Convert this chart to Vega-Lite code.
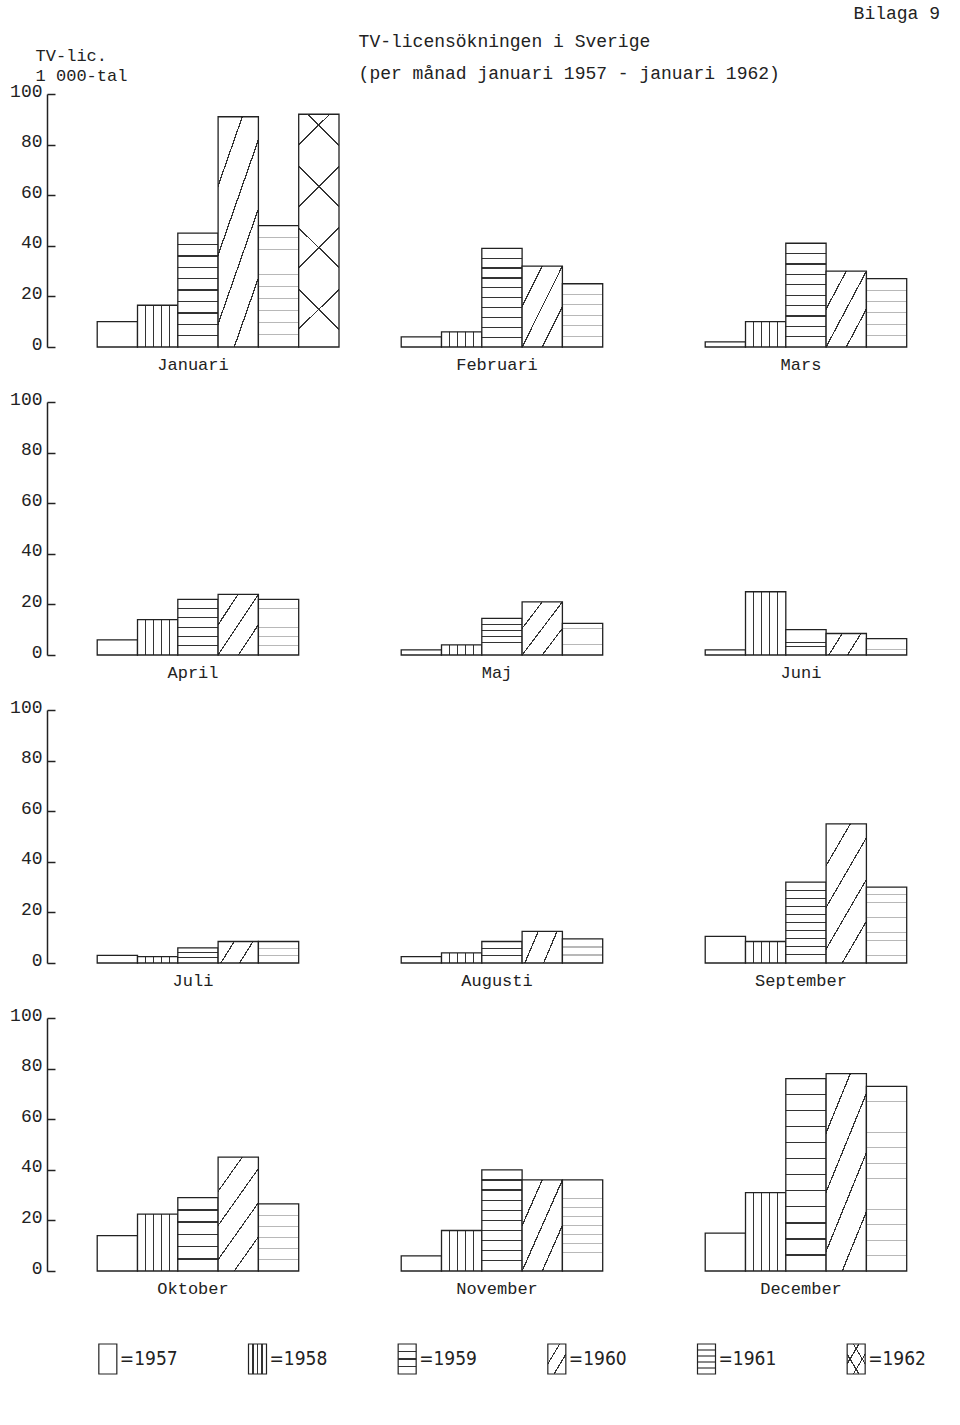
{
  "$schema": "https://vega.github.io/schema/vega-lite/v6.json",
  "background": "white",
  "padding": {"left": 9, "top": 5, "right": 10, "bottom": 5},
  "title": {"text": "Bilaga 9", "anchor": "end", "offset": 10, "dx": -7, "fontSize": 18, "font": "Liberation Mono", "fontWeight": "normal", "color": "#222"},
  "datasets": {
    "bars": [
      {"month": "Januari", "year": "1957", "value": 10},
      {"month": "Januari", "year": "1958", "value": 16.5},
      {"month": "Januari", "year": "1959", "value": 45},
      {"month": "Januari", "year": "1960", "value": 91},
      {"month": "Januari", "year": "1961", "value": 48},
      {"month": "Januari", "year": "1962", "value": 92},
      {"month": "Februari", "year": "1957", "value": 4},
      {"month": "Februari", "year": "1958", "value": 6},
      {"month": "Februari", "year": "1959", "value": 39},
      {"month": "Februari", "year": "1960", "value": 32},
      {"month": "Februari", "year": "1961", "value": 25},
      {"month": "Mars", "year": "1957", "value": 2},
      {"month": "Mars", "year": "1958", "value": 10},
      {"month": "Mars", "year": "1959", "value": 41},
      {"month": "Mars", "year": "1960", "value": 30},
      {"month": "Mars", "year": "1961", "value": 27},
      {"month": "April", "year": "1957", "value": 6},
      {"month": "April", "year": "1958", "value": 14},
      {"month": "April", "year": "1959", "value": 22},
      {"month": "April", "year": "1960", "value": 24},
      {"month": "April", "year": "1961", "value": 22},
      {"month": "Maj", "year": "1957", "value": 2},
      {"month": "Maj", "year": "1958", "value": 4},
      {"month": "Maj", "year": "1959", "value": 14.5},
      {"month": "Maj", "year": "1960", "value": 21},
      {"month": "Maj", "year": "1961", "value": 12.5},
      {"month": "Juni", "year": "1957", "value": 2},
      {"month": "Juni", "year": "1958", "value": 25},
      {"month": "Juni", "year": "1959", "value": 10},
      {"month": "Juni", "year": "1960", "value": 8.5},
      {"month": "Juni", "year": "1961", "value": 6.5},
      {"month": "Juli", "year": "1957", "value": 3},
      {"month": "Juli", "year": "1958", "value": 2.5},
      {"month": "Juli", "year": "1959", "value": 6},
      {"month": "Juli", "year": "1960", "value": 8.5},
      {"month": "Juli", "year": "1961", "value": 8.5},
      {"month": "Augusti", "year": "1957", "value": 2.5},
      {"month": "Augusti", "year": "1958", "value": 4},
      {"month": "Augusti", "year": "1959", "value": 8.5},
      {"month": "Augusti", "year": "1960", "value": 12.5},
      {"month": "Augusti", "year": "1961", "value": 9.5},
      {"month": "September", "year": "1957", "value": 10.5},
      {"month": "September", "year": "1958", "value": 8.5},
      {"month": "September", "year": "1959", "value": 32},
      {"month": "September", "year": "1960", "value": 55},
      {"month": "September", "year": "1961", "value": 30},
      {"month": "Oktober", "year": "1957", "value": 14},
      {"month": "Oktober", "year": "1958", "value": 22.5},
      {"month": "Oktober", "year": "1959", "value": 29},
      {"month": "Oktober", "year": "1960", "value": 45},
      {"month": "Oktober", "year": "1961", "value": 26.5},
      {"month": "November", "year": "1957", "value": 6},
      {"month": "November", "year": "1958", "value": 16},
      {"month": "November", "year": "1959", "value": 40},
      {"month": "November", "year": "1960", "value": 36},
      {"month": "November", "year": "1961", "value": 36},
      {"month": "December", "year": "1957", "value": 15},
      {"month": "December", "year": "1958", "value": 31},
      {"month": "December", "year": "1959", "value": 76},
      {"month": "December", "year": "1960", "value": 78},
      {"month": "December", "year": "1961", "value": 73}
    ],
    "legend": [
      {"year": "1957", "label": "=1957"},
      {"year": "1958", "label": "=1958"},
      {"year": "1959", "label": "=1959"},
      {"year": "1960", "label": "=1960"},
      {"year": "1961", "label": "=1961"},
      {"year": "1962", "label": "=1962"}
    ]
  },
  "vconcat": [
    {
      "title": {"text": "TV-licensökningen i Sverige", "subtitle": "(per månad januari 1957 - januari 1962)", "anchor": "start", "dx": 349, "offset": -36, "fontSize": 18, "font": "Liberation Mono", "fontWeight": "normal", "color": "#222", "subtitleFont": "Liberation Mono", "subtitleFontSize": 18, "subtitleColor": "#222", "subtitlePadding": 14},
      "spacing": 46,
      "vconcat": [
        {
          "title": {"text": ["TV-lic.", "1 000-tal"], "anchor": "start", "dx": 26, "offset": -3, "fontSize": 17, "lineHeight": 20, "font": "Liberation Mono", "fontWeight": "normal", "color": "#222"},
          "data": {"name": "bars"},
          "columns": 3,
          "spacing": {"row": 29, "column": 11},
          "facet": {
            "field": "month", "type": "nominal", "title": null,
            "sort": ["Januari", "Februari", "Mars", "April", "Maj", "Juni", "Juli", "Augusti", "September", "Oktober", "November", "December"],
            "header": {"labelOrient": "bottom", "labelPadding": 9, "labelFont": "Liberation Mono", "labelFontSize": 17, "labelColor": "#222"}
          },
          "spec": {
            "width": 292,
            "height": 253,
            "layer": [
              {
                "mark": {"type": "bar", "stroke": "#222", "strokeWidth": 1.3},
                "encoding": {
                  "x": {"field": "year", "type": "nominal", "axis": null, "scale": {"domain": ["1957", "1958", "1959", "1960", "1961", "1962"], "paddingInner": 0, "paddingOuter": 0.623, "align": 1}},
                  "y": {"field": "value", "type": "quantitative", "scale": {"domain": [0, 100]},
                        "axis": {"title": null, "values": [0, 20, 40, 60, 80, 100], "grid": false, "labelFont": "Liberation Mono", "labelFontSize": 18, "labelColor": "#222", "tickSize": -8, "labelPadding": 13, "labelOffset": -3, "domainColor": "#222", "domainWidth": 1.5, "tickColor": "#222", "tickWidth": 1.5}},
                  "fill": {
                    "condition": [
                      {"test": "datum.year === '1958'", "value": {"gradient": "linear", "x1": 0, "y1": 0, "x2": 1, "y2": 0, "stops": [
                        {"offset": 0, "color": "#fff"},
                        {"offset": 0.188, "color": "#fff"}, {"offset": 0.188, "color": "#333"}, {"offset": 0.212, "color": "#333"}, {"offset": 0.212, "color": "#fff"},
                        {"offset": 0.388, "color": "#fff"}, {"offset": 0.388, "color": "#333"}, {"offset": 0.412, "color": "#333"}, {"offset": 0.412, "color": "#fff"},
                        {"offset": 0.588, "color": "#fff"}, {"offset": 0.588, "color": "#333"}, {"offset": 0.612, "color": "#333"}, {"offset": 0.612, "color": "#fff"},
                        {"offset": 0.788, "color": "#fff"}, {"offset": 0.788, "color": "#333"}, {"offset": 0.812, "color": "#333"}, {"offset": 0.812, "color": "#fff"},
                        {"offset": 1, "color": "#fff"}]}},
                      {"test": "datum.year === '1959' && datum.value >= 60", "value": {"gradient": "linear", "x1": 0, "y1": 0, "x2": 0, "y2": 1, "stops": [
                        {"offset": 0, "color": "#fff"},
                        {"offset": 0.0803, "color": "#fff"}, {"offset": 0.0803, "color": "#333"}, {"offset": 0.0863, "color": "#333"}, {"offset": 0.0863, "color": "#fff"},
                        {"offset": 0.1637, "color": "#fff"}, {"offset": 0.1637, "color": "#333"}, {"offset": 0.1697, "color": "#333"}, {"offset": 0.1697, "color": "#fff"},
                        {"offset": 0.247, "color": "#fff"}, {"offset": 0.247, "color": "#333"}, {"offset": 0.253, "color": "#333"}, {"offset": 0.253, "color": "#fff"},
                        {"offset": 0.3303, "color": "#fff"}, {"offset": 0.3303, "color": "#333"}, {"offset": 0.3363, "color": "#333"}, {"offset": 0.3363, "color": "#fff"},
                        {"offset": 0.4137, "color": "#fff"}, {"offset": 0.4137, "color": "#333"}, {"offset": 0.4197, "color": "#333"}, {"offset": 0.4197, "color": "#fff"},
                        {"offset": 0.497, "color": "#fff"}, {"offset": 0.497, "color": "#333"}, {"offset": 0.503, "color": "#333"}, {"offset": 0.503, "color": "#fff"},
                        {"offset": 0.5803, "color": "#fff"}, {"offset": 0.5803, "color": "#333"}, {"offset": 0.5863, "color": "#333"}, {"offset": 0.5863, "color": "#fff"},
                        {"offset": 0.6637, "color": "#fff"}, {"offset": 0.6637, "color": "#333"}, {"offset": 0.6697, "color": "#333"}, {"offset": 0.6697, "color": "#fff"},
                        {"offset": 0.747, "color": "#fff"}, {"offset": 0.747, "color": "#333"}, {"offset": 0.753, "color": "#333"}, {"offset": 0.753, "color": "#fff"},
                        {"offset": 0.8303, "color": "#fff"}, {"offset": 0.8303, "color": "#333"}, {"offset": 0.8363, "color": "#333"}, {"offset": 0.8363, "color": "#fff"},
                        {"offset": 0.9137, "color": "#fff"}, {"offset": 0.9137, "color": "#333"}, {"offset": 0.9197, "color": "#333"}, {"offset": 0.9197, "color": "#fff"},
                        {"offset": 1, "color": "#fff"}]}},
                      {"test": "datum.year === '1959' && datum.value >= 30", "value": {"gradient": "linear", "x1": 0, "y1": 0, "x2": 0, "y2": 1, "stops": [
                        {"offset": 0, "color": "#fff"},
                        {"offset": 0.094, "color": "#fff"}, {"offset": 0.094, "color": "#333"}, {"offset": 0.106, "color": "#333"}, {"offset": 0.106, "color": "#fff"},
                        {"offset": 0.194, "color": "#fff"}, {"offset": 0.194, "color": "#333"}, {"offset": 0.206, "color": "#333"}, {"offset": 0.206, "color": "#fff"},
                        {"offset": 0.294, "color": "#fff"}, {"offset": 0.294, "color": "#333"}, {"offset": 0.306, "color": "#333"}, {"offset": 0.306, "color": "#fff"},
                        {"offset": 0.394, "color": "#fff"}, {"offset": 0.394, "color": "#333"}, {"offset": 0.406, "color": "#333"}, {"offset": 0.406, "color": "#fff"},
                        {"offset": 0.494, "color": "#fff"}, {"offset": 0.494, "color": "#333"}, {"offset": 0.506, "color": "#333"}, {"offset": 0.506, "color": "#fff"},
                        {"offset": 0.594, "color": "#fff"}, {"offset": 0.594, "color": "#333"}, {"offset": 0.606, "color": "#333"}, {"offset": 0.606, "color": "#fff"},
                        {"offset": 0.694, "color": "#fff"}, {"offset": 0.694, "color": "#333"}, {"offset": 0.706, "color": "#333"}, {"offset": 0.706, "color": "#fff"},
                        {"offset": 0.794, "color": "#fff"}, {"offset": 0.794, "color": "#333"}, {"offset": 0.806, "color": "#333"}, {"offset": 0.806, "color": "#fff"},
                        {"offset": 0.894, "color": "#fff"}, {"offset": 0.894, "color": "#333"}, {"offset": 0.906, "color": "#333"}, {"offset": 0.906, "color": "#fff"},
                        {"offset": 1, "color": "#fff"}]}},
                      {"test": "datum.year === '1959' && datum.value >= 10", "value": {"gradient": "linear", "x1": 0, "y1": 0, "x2": 0, "y2": 1, "stops": [
                        {"offset": 0, "color": "#fff"},
                        {"offset": 0.1567, "color": "#fff"}, {"offset": 0.1567, "color": "#333"}, {"offset": 0.1767, "color": "#333"}, {"offset": 0.1767, "color": "#fff"},
                        {"offset": 0.3233, "color": "#fff"}, {"offset": 0.3233, "color": "#333"}, {"offset": 0.3433, "color": "#333"}, {"offset": 0.3433, "color": "#fff"},
                        {"offset": 0.49, "color": "#fff"}, {"offset": 0.49, "color": "#333"}, {"offset": 0.51, "color": "#333"}, {"offset": 0.51, "color": "#fff"},
                        {"offset": 0.6567, "color": "#fff"}, {"offset": 0.6567, "color": "#333"}, {"offset": 0.6767, "color": "#333"}, {"offset": 0.6767, "color": "#fff"},
                        {"offset": 0.8233, "color": "#fff"}, {"offset": 0.8233, "color": "#333"}, {"offset": 0.8433, "color": "#333"}, {"offset": 0.8433, "color": "#fff"},
                        {"offset": 1, "color": "#fff"}]}},
                      {"test": "datum.year === '1959'", "value": {"gradient": "linear", "x1": 0, "y1": 0, "x2": 0, "y2": 1, "stops": [
                        {"offset": 0, "color": "#fff"},
                        {"offset": 0.3033, "color": "#fff"}, {"offset": 0.3033, "color": "#333"}, {"offset": 0.3633, "color": "#333"}, {"offset": 0.3633, "color": "#fff"},
                        {"offset": 0.6367, "color": "#fff"}, {"offset": 0.6367, "color": "#333"}, {"offset": 0.6967, "color": "#333"}, {"offset": 0.6967, "color": "#fff"},
                        {"offset": 1, "color": "#fff"}]}},
                      {"test": "datum.year === '1960' && datum.value >= 40", "value": {"gradient": "linear", "x1": 0, "y1": 0, "x2": 0.6, "y2": 1.2, "stops": [
                        {"offset": 0, "color": "#fff"},
                        {"offset": 0.1945, "color": "#fff"}, {"offset": 0.1945, "color": "#333"}, {"offset": 0.2055, "color": "#333"}, {"offset": 0.2055, "color": "#fff"},
                        {"offset": 0.3945, "color": "#fff"}, {"offset": 0.3945, "color": "#333"}, {"offset": 0.4055, "color": "#333"}, {"offset": 0.4055, "color": "#fff"},
                        {"offset": 0.5945, "color": "#fff"}, {"offset": 0.5945, "color": "#333"}, {"offset": 0.6055, "color": "#333"}, {"offset": 0.6055, "color": "#fff"},
                        {"offset": 0.7945, "color": "#fff"}, {"offset": 0.7945, "color": "#333"}, {"offset": 0.8055, "color": "#333"}, {"offset": 0.8055, "color": "#fff"},
                        {"offset": 1, "color": "#fff"}]}},
                      {"test": "datum.year === '1960' && datum.value >= 15", "value": {"gradient": "linear", "x1": 0, "y1": 0, "x2": 1, "y2": 1, "stops": [
                        {"offset": 0, "color": "#fff"},
                        {"offset": 0.2415, "color": "#fff"}, {"offset": 0.2415, "color": "#333"}, {"offset": 0.2585, "color": "#333"}, {"offset": 0.2585, "color": "#fff"},
                        {"offset": 0.4915, "color": "#fff"}, {"offset": 0.4915, "color": "#333"}, {"offset": 0.5085, "color": "#333"}, {"offset": 0.5085, "color": "#fff"},
                        {"offset": 0.7415, "color": "#fff"}, {"offset": 0.7415, "color": "#333"}, {"offset": 0.7585, "color": "#333"}, {"offset": 0.7585, "color": "#fff"},
                        {"offset": 1, "color": "#fff"}]}},
                      {"test": "datum.year === '1960'", "value": {"gradient": "linear", "x1": 0, "y1": 0, "x2": 1.2, "y2": 0.4, "stops": [
                        {"offset": 0, "color": "#fff"},
                        {"offset": 0.2875, "color": "#fff"}, {"offset": 0.2875, "color": "#333"}, {"offset": 0.3125, "color": "#333"}, {"offset": 0.3125, "color": "#fff"},
                        {"offset": 0.6375, "color": "#fff"}, {"offset": 0.6375, "color": "#333"}, {"offset": 0.6625, "color": "#333"}, {"offset": 0.6625, "color": "#fff"},
                        {"offset": 1, "color": "#fff"}]}},
                      {"test": "datum.year === '1961' && datum.value >= 60", "value": {"gradient": "linear", "x1": 0, "y1": 0, "x2": 0, "y2": 1, "stops": [
                        {"offset": 0, "color": "#fff"},
                        {"offset": 0.0813, "color": "#fff"}, {"offset": 0.0813, "color": "#b8b8b8"}, {"offset": 0.0853, "color": "#b8b8b8"}, {"offset": 0.0853, "color": "#fff"},
                        {"offset": 0.1647, "color": "#fff"}, {"offset": 0.1647, "color": "#b8b8b8"}, {"offset": 0.1687, "color": "#b8b8b8"}, {"offset": 0.1687, "color": "#fff"},
                        {"offset": 0.248, "color": "#fff"}, {"offset": 0.248, "color": "#b8b8b8"}, {"offset": 0.252, "color": "#b8b8b8"}, {"offset": 0.252, "color": "#fff"},
                        {"offset": 0.3313, "color": "#fff"}, {"offset": 0.3313, "color": "#b8b8b8"}, {"offset": 0.3353, "color": "#b8b8b8"}, {"offset": 0.3353, "color": "#fff"},
                        {"offset": 0.4147, "color": "#fff"}, {"offset": 0.4147, "color": "#b8b8b8"}, {"offset": 0.4187, "color": "#b8b8b8"}, {"offset": 0.4187, "color": "#fff"},
                        {"offset": 0.498, "color": "#fff"}, {"offset": 0.498, "color": "#b8b8b8"}, {"offset": 0.502, "color": "#b8b8b8"}, {"offset": 0.502, "color": "#fff"},
                        {"offset": 0.5813, "color": "#fff"}, {"offset": 0.5813, "color": "#b8b8b8"}, {"offset": 0.5853, "color": "#b8b8b8"}, {"offset": 0.5853, "color": "#fff"},
                        {"offset": 0.6647, "color": "#fff"}, {"offset": 0.6647, "color": "#b8b8b8"}, {"offset": 0.6687, "color": "#b8b8b8"}, {"offset": 0.6687, "color": "#fff"},
                        {"offset": 0.748, "color": "#fff"}, {"offset": 0.748, "color": "#b8b8b8"}, {"offset": 0.752, "color": "#b8b8b8"}, {"offset": 0.752, "color": "#fff"},
                        {"offset": 0.8313, "color": "#fff"}, {"offset": 0.8313, "color": "#b8b8b8"}, {"offset": 0.8353, "color": "#b8b8b8"}, {"offset": 0.8353, "color": "#fff"},
                        {"offset": 0.9147, "color": "#fff"}, {"offset": 0.9147, "color": "#b8b8b8"}, {"offset": 0.9187, "color": "#b8b8b8"}, {"offset": 0.9187, "color": "#fff"},
                        {"offset": 1, "color": "#fff"}]}},
                      {"test": "datum.year === '1961' && datum.value >= 30", "value": {"gradient": "linear", "x1": 0, "y1": 0, "x2": 0, "y2": 1, "stops": [
                        {"offset": 0, "color": "#fff"},
                        {"offset": 0.096, "color": "#fff"}, {"offset": 0.096, "color": "#b8b8b8"}, {"offset": 0.104, "color": "#b8b8b8"}, {"offset": 0.104, "color": "#fff"},
                        {"offset": 0.196, "color": "#fff"}, {"offset": 0.196, "color": "#b8b8b8"}, {"offset": 0.204, "color": "#b8b8b8"}, {"offset": 0.204, "color": "#fff"},
                        {"offset": 0.296, "color": "#fff"}, {"offset": 0.296, "color": "#b8b8b8"}, {"offset": 0.304, "color": "#b8b8b8"}, {"offset": 0.304, "color": "#fff"},
                        {"offset": 0.396, "color": "#fff"}, {"offset": 0.396, "color": "#b8b8b8"}, {"offset": 0.404, "color": "#b8b8b8"}, {"offset": 0.404, "color": "#fff"},
                        {"offset": 0.496, "color": "#fff"}, {"offset": 0.496, "color": "#b8b8b8"}, {"offset": 0.504, "color": "#b8b8b8"}, {"offset": 0.504, "color": "#fff"},
                        {"offset": 0.596, "color": "#fff"}, {"offset": 0.596, "color": "#b8b8b8"}, {"offset": 0.604, "color": "#b8b8b8"}, {"offset": 0.604, "color": "#fff"},
                        {"offset": 0.696, "color": "#fff"}, {"offset": 0.696, "color": "#b8b8b8"}, {"offset": 0.704, "color": "#b8b8b8"}, {"offset": 0.704, "color": "#fff"},
                        {"offset": 0.796, "color": "#fff"}, {"offset": 0.796, "color": "#b8b8b8"}, {"offset": 0.804, "color": "#b8b8b8"}, {"offset": 0.804, "color": "#fff"},
                        {"offset": 0.896, "color": "#fff"}, {"offset": 0.896, "color": "#b8b8b8"}, {"offset": 0.904, "color": "#b8b8b8"}, {"offset": 0.904, "color": "#fff"},
                        {"offset": 1, "color": "#fff"}]}},
                      {"test": "datum.year === '1961' && datum.value >= 10", "value": {"gradient": "linear", "x1": 0, "y1": 0, "x2": 0, "y2": 1, "stops": [
                        {"offset": 0, "color": "#fff"},
                        {"offset": 0.1597, "color": "#fff"}, {"offset": 0.1597, "color": "#b8b8b8"}, {"offset": 0.1737, "color": "#b8b8b8"}, {"offset": 0.1737, "color": "#fff"},
                        {"offset": 0.3263, "color": "#fff"}, {"offset": 0.3263, "color": "#b8b8b8"}, {"offset": 0.3403, "color": "#b8b8b8"}, {"offset": 0.3403, "color": "#fff"},
                        {"offset": 0.493, "color": "#fff"}, {"offset": 0.493, "color": "#b8b8b8"}, {"offset": 0.507, "color": "#b8b8b8"}, {"offset": 0.507, "color": "#fff"},
                        {"offset": 0.6597, "color": "#fff"}, {"offset": 0.6597, "color": "#b8b8b8"}, {"offset": 0.6737, "color": "#b8b8b8"}, {"offset": 0.6737, "color": "#fff"},
                        {"offset": 0.8263, "color": "#fff"}, {"offset": 0.8263, "color": "#b8b8b8"}, {"offset": 0.8403, "color": "#b8b8b8"}, {"offset": 0.8403, "color": "#fff"},
                        {"offset": 1, "color": "#fff"}]}},
                      {"test": "datum.year === '1961'", "value": {"gradient": "linear", "x1": 0, "y1": 0, "x2": 0, "y2": 1, "stops": [
                        {"offset": 0, "color": "#fff"},
                        {"offset": 0.31, "color": "#fff"}, {"offset": 0.31, "color": "#b8b8b8"}, {"offset": 0.356, "color": "#b8b8b8"}, {"offset": 0.356, "color": "#fff"},
                        {"offset": 0.644, "color": "#fff"}, {"offset": 0.644, "color": "#b8b8b8"}, {"offset": 0.69, "color": "#b8b8b8"}, {"offset": 0.69, "color": "#fff"},
                        {"offset": 1, "color": "#fff"}]}},
                      {"test": "datum.year === '1962'", "value": {"gradient": "linear", "x1": 0, "y1": 0, "x2": 0.1955, "y2": 1.1382, "stops": [
                        {"offset": 0, "color": "#fff"},
                        {"offset": 0.1095, "color": "#fff"}, {"offset": 0.1095, "color": "#333"}, {"offset": 0.1165, "color": "#333"}, {"offset": 0.1165, "color": "#fff"},
                        {"offset": 0.3345, "color": "#fff"}, {"offset": 0.3345, "color": "#333"}, {"offset": 0.3415, "color": "#333"}, {"offset": 0.3415, "color": "#fff"},
                        {"offset": 0.5595, "color": "#fff"}, {"offset": 0.5595, "color": "#333"}, {"offset": 0.5665, "color": "#333"}, {"offset": 0.5665, "color": "#fff"},
                        {"offset": 0.7845, "color": "#fff"}, {"offset": 0.7845, "color": "#333"}, {"offset": 0.7915, "color": "#333"}, {"offset": 0.7915, "color": "#fff"},
                        {"offset": 1, "color": "#fff"}]}}
                    ],
                    "value": "#fff"
                  }
                }
              },
              {
                "transform": [{"filter": "datum.year === '1962'"}],
                "mark": {"type": "bar", "strokeWidth": 0, "fill": {"gradient": "linear", "x1": 1, "y1": 0, "x2": 0.8045, "y2": 1.1382, "stops": [
                  {"offset": 0, "color": "rgba(255,255,255,0)"},
                  {"offset": 0.1095, "color": "rgba(255,255,255,0)"}, {"offset": 0.1095, "color": "#333"}, {"offset": 0.1165, "color": "#333"}, {"offset": 0.1165, "color": "rgba(255,255,255,0)"},
                  {"offset": 0.3345, "color": "rgba(255,255,255,0)"}, {"offset": 0.3345, "color": "#333"}, {"offset": 0.3415, "color": "#333"}, {"offset": 0.3415, "color": "rgba(255,255,255,0)"},
                  {"offset": 0.5595, "color": "rgba(255,255,255,0)"}, {"offset": 0.5595, "color": "#333"}, {"offset": 0.5665, "color": "#333"}, {"offset": 0.5665, "color": "rgba(255,255,255,0)"},
                  {"offset": 0.7845, "color": "rgba(255,255,255,0)"}, {"offset": 0.7845, "color": "#333"}, {"offset": 0.7915, "color": "#333"}, {"offset": 0.7915, "color": "rgba(255,255,255,0)"},
                  {"offset": 1, "color": "rgba(255,255,255,0)"}]}},
                "encoding": {
                  "x": {"field": "year", "type": "nominal", "axis": null},
                  "y": {"field": "value", "type": "quantitative"}
                }
              }
            ]
          }
        },
        {
          "data": {"name": "legend"},
          "width": 898,
          "height": 30,
          "layer": [
            {
              "mark": {"type": "bar", "width": 18, "xOffset": -14, "stroke": "#222", "strokeWidth": 1.2},
              "encoding": {
                "x": {"field": "year", "type": "nominal", "axis": null, "scale": {"domain": ["1957", "1958", "1959", "1960", "1961", "1962"], "paddingInner": 0, "paddingOuter": 0}},
                "fill": {
                  "condition": [
                    {"test": "datum.year === '1958'", "value": {"gradient": "linear", "x1": 0, "y1": 0, "x2": 1, "y2": 0, "stops": [
                      {"offset": 0, "color": "#fff"},
                      {"offset": 0.22, "color": "#fff"}, {"offset": 0.22, "color": "#333"}, {"offset": 0.28, "color": "#333"}, {"offset": 0.28, "color": "#fff"},
                      {"offset": 0.47, "color": "#fff"}, {"offset": 0.47, "color": "#333"}, {"offset": 0.53, "color": "#333"}, {"offset": 0.53, "color": "#fff"},
                      {"offset": 0.72, "color": "#fff"}, {"offset": 0.72, "color": "#333"}, {"offset": 0.78, "color": "#333"}, {"offset": 0.78, "color": "#fff"},
                      {"offset": 1, "color": "#fff"}]}},
                    {"test": "datum.year === '1959'", "value": {"gradient": "linear", "x1": 0, "y1": 0, "x2": 0, "y2": 1, "stops": [
                      {"offset": 0, "color": "#fff"},
                      {"offset": 0.23, "color": "#fff"}, {"offset": 0.23, "color": "#333"}, {"offset": 0.27, "color": "#333"}, {"offset": 0.27, "color": "#fff"},
                      {"offset": 0.48, "color": "#fff"}, {"offset": 0.48, "color": "#333"}, {"offset": 0.52, "color": "#333"}, {"offset": 0.52, "color": "#fff"},
                      {"offset": 0.73, "color": "#fff"}, {"offset": 0.73, "color": "#333"}, {"offset": 0.77, "color": "#333"}, {"offset": 0.77, "color": "#fff"},
                      {"offset": 1, "color": "#fff"}]}},
                    {"test": "datum.year === '1960' || datum.year === '1962'", "value": {"gradient": "linear", "x1": 0, "y1": 0, "x2": 1, "y2": 1, "stops": [
                      {"offset": 0, "color": "#fff"},
                      {"offset": 0.312, "color": "#fff"}, {"offset": 0.312, "color": "#333"}, {"offset": 0.348, "color": "#333"}, {"offset": 0.348, "color": "#fff"},
                      {"offset": 0.652, "color": "#fff"}, {"offset": 0.652, "color": "#333"}, {"offset": 0.688, "color": "#333"}, {"offset": 0.688, "color": "#fff"},
                      {"offset": 1, "color": "#fff"}]}},
                    {"test": "datum.year === '1961'", "value": {"gradient": "linear", "x1": 0, "y1": 0, "x2": 0, "y2": 1, "stops": [
                      {"offset": 0, "color": "#fff"},
                      {"offset": 0.18, "color": "#fff"}, {"offset": 0.18, "color": "#888"}, {"offset": 0.22, "color": "#888"}, {"offset": 0.22, "color": "#fff"},
                      {"offset": 0.38, "color": "#fff"}, {"offset": 0.38, "color": "#888"}, {"offset": 0.42, "color": "#888"}, {"offset": 0.42, "color": "#fff"},
                      {"offset": 0.58, "color": "#fff"}, {"offset": 0.58, "color": "#888"}, {"offset": 0.62, "color": "#888"}, {"offset": 0.62, "color": "#fff"},
                      {"offset": 0.78, "color": "#fff"}, {"offset": 0.78, "color": "#888"}, {"offset": 0.82, "color": "#888"}, {"offset": 0.82, "color": "#fff"},
                      {"offset": 1, "color": "#fff"}]}}
                  ],
                  "value": "#fff"
                }
              }
            },
            {
              "transform": [{"filter": "datum.year === '1962'"}],
              "mark": {"type": "bar", "width": 18, "xOffset": -14, "strokeWidth": 0, "fill": {"gradient": "linear", "x1": 1, "y1": 0, "x2": 0, "y2": 1, "stops": [
                {"offset": 0, "color": "rgba(255,255,255,0)"},
                {"offset": 0.312, "color": "rgba(255,255,255,0)"}, {"offset": 0.312, "color": "#333"}, {"offset": 0.348, "color": "#333"}, {"offset": 0.348, "color": "rgba(255,255,255,0)"},
                {"offset": 0.652, "color": "rgba(255,255,255,0)"}, {"offset": 0.652, "color": "#333"}, {"offset": 0.688, "color": "#333"}, {"offset": 0.688, "color": "rgba(255,255,255,0)"},
                {"offset": 1, "color": "rgba(255,255,255,0)"}]}},
              "encoding": {
                "x": {"field": "year", "type": "nominal", "axis": null}
              }
            },
            {
              "mark": {"type": "text", "align": "left", "baseline": "middle", "dx": 12, "xOffset": -14, "font": "Liberation Sans Narrow, DejaVu Sans Condensed, sans-serif", "fontSize": 19, "color": "#222"},
              "encoding": {
                "x": {"field": "year", "type": "nominal", "axis": null},
                "text": {"field": "label"}
              }
            }
          ]
        }
      ]
    }
  ],
  "config": {
    "font": "Liberation Mono",
    "view": {"stroke": null}
  }
}
